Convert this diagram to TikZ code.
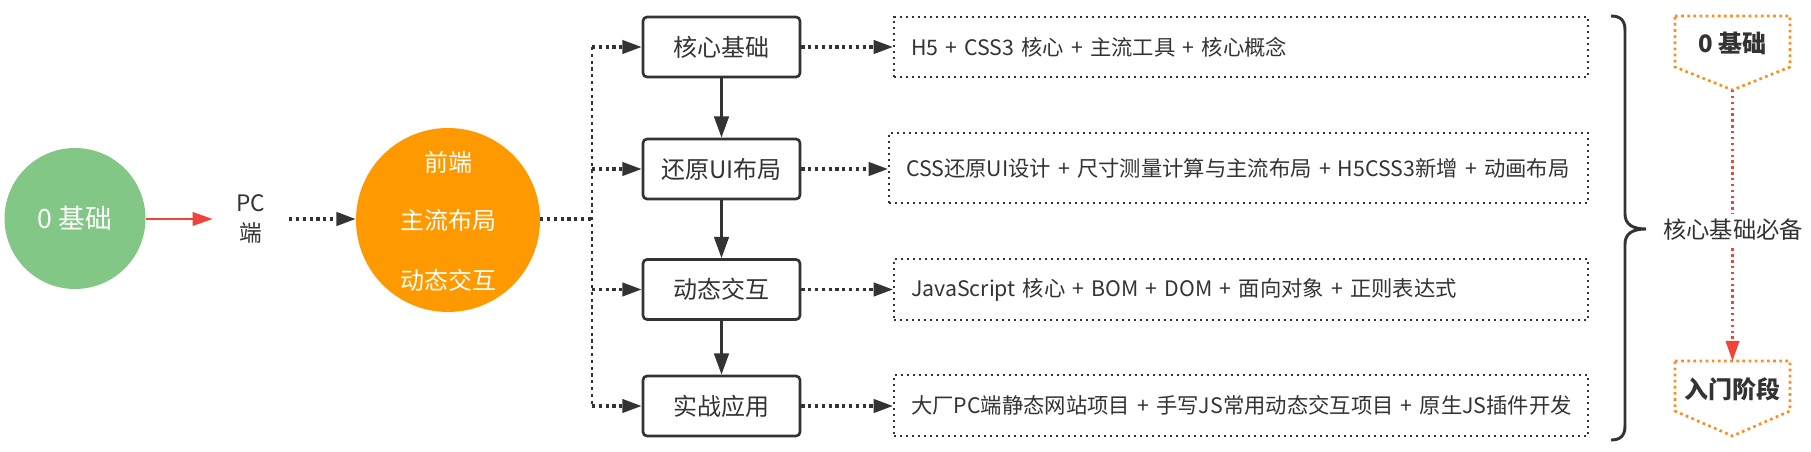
\documentclass[tikz,border=0pt]{standalone}
\usepackage{fontspec}
\setmainfont{Noto Sans CJK SC}
\usetikzlibrary{arrows.meta,shapes.geometric}
\definecolor{ink}{HTML}{333333}
\definecolor{grn}{HTML}{82C785}
\definecolor{orng}{HTML}{FF9900}
\definecolor{rd}{HTML}{F04438}
\definecolor{dorng}{HTML}{FF8C1A}
\begin{document}
\begin{tikzpicture}[x=0.75pt,y=-0.75pt,
  stepbox/.style={draw=ink, line width=2pt, rounded corners=3pt, minimum width=117.75pt, minimum height=45pt, inner sep=0pt, font=\fontsize{18}{20}\selectfont, text=ink},
  detail/.style={draw=ink, line width=1.6pt, dash pattern=on 1.6pt off 2.9pt, anchor=west, align=left, inner xsep=12.75pt, inner ysep=0pt, text=ink, font=\fontsize{16}{19}\selectfont},
  dotline/.style={draw=ink, line width=2.4pt, dash pattern=on 2.4pt off 2.7pt},
  dotarrow/.style={dotline, -{Triangle[length=14.5pt,width=10pt]}},
  solidarrow/.style={draw=ink, line width=2pt, -{Triangle[length=16pt,width=11pt]}},
  pent/.style={draw=dorng, line width=2pt, dash pattern=on 2pt off 2.6pt},
  pentxt/.style={font=\fontsize{18}{20}\selectfont\bfseries, text=ink},
  wtxt/.style={text=white, font=\fontsize{18}{20}\selectfont},
]
\useasboundingbox (0,0) rectangle (1811,452);

% left part
\node[ellipse, fill=grn, minimum width=105.75pt, minimum height=105.75pt, inner sep=0pt, text=white, font=\fontsize{20}{22}\selectfont] (g) at (75,218.5) {0 基础};
\node[minimum width=57pt, inner sep=0pt, align=center, text=ink, font=\fontsize{17}{22.5}\selectfont] (pc) at (251,219) {PC\\端};
\node[ellipse, fill=orng, minimum width=138pt, minimum height=138pt, inner sep=0pt] (o) at (448,220) {};
\node[wtxt] (o1) at (448,162) {前端};
\node[wtxt] (o2) at (448,220) {主流布局};
\node[wtxt] (o3) at (448,280) {动态交互};

\draw[draw=rd, line width=1.6pt, -{Triangle[length=15pt,width=10pt]}] (g.east |- pc.west) -- (pc.west);
\draw[dotarrow] (pc.east) -- (pc.east -| o.west);

% step boxes
\node[stepbox] (s1) at (721.5,47) {核心基础};
\node[stepbox] (s2) at (721.5,169) {还原UI布局};
\node[stepbox] (s3) at (721.5,289.5) {动态交互};
\node[stepbox] (s4) at (721.5,406) {实战应用};

\draw[solidarrow] (s1) -- (s2);
\draw[solidarrow] (s2) -- (s3);
\draw[solidarrow] (s3) -- (s4);

% trunk
\coordinate (trunk) at (592,219);
\draw[dotline, line width=2.6pt] (o.east |- pc.east) -- (trunk);
\draw[dotline, line width=2pt] (s1.west -| trunk) -- (s4.west -| trunk);
\foreach \s in {s1,s2,s3,s4} {
  \draw[dotarrow] (\s.west -| trunk) -- (\s.west);
}

% detail boxes
\node[detail, text width=495pt, minimum height=45pt] (d1) at (893,47) {\mbox{H5 + CSS3 核心 + 主流工具 + 核心概念}};
\node[detail, text width=498.75pt, minimum height=52.5pt] (d2) at (888,168) {\mbox{CSS还原UI设计 + 尺寸测量计算与主流布局 + H5CSS3新增 + 动画布局}};
\node[detail, text width=495pt, minimum height=45.75pt] (d3) at (893,289.5) {\mbox{JavaScript 核心 + BOM + DOM + 面向对象 + 正则表达式}};
\node[detail, text width=495pt, minimum height=45.75pt] (d4) at (893,405.5) {\mbox{大厂PC端静态网站项目 + 手写JS常用动态交互项目 + 原生JS插件开发}};

\draw[dotarrow] (s1.east) -- (s1.east -| d1.west);
\draw[dotarrow] (s2.east) -- (s2.east -| d2.west);
\draw[dotarrow] (s3.east) -- (s3.east -| d3.west);
\draw[dotarrow] (s4.east) -- (s4.east -| d4.west);

% brace
\draw[ink, line width=2.2pt] (1611,16) .. controls (1620,16) and (1625,20) .. (1625,30) -- (1625,214)
  .. controls (1625,224) and (1632,229) .. (1646,229)
  .. controls (1632,229) and (1625,234) .. (1625,244) -- (1625,426)
  .. controls (1625,436) and (1620,440) .. (1611,440);

% pentagons
\draw[pent] (1675,16) -- (1790,16) -- (1790,67) -- (1732.5,90) -- (1675,67) -- cycle;
\node[pentxt] (z) at (1732.5,43) {0 基础};
\coordinate (ztip) at (1732.5,90);
\draw[pent] (1675,361) -- (1790,361) -- (1790,411) -- (1732.5,436) -- (1675,411) -- cycle;
\node[pentxt] (rm) at (1732.5,389) {入门阶段};
\coordinate (rtop) at (1732.5,361);

\draw[draw=rd, line width=1.8pt, dash pattern=on 1.8pt off 2.6pt, -{Triangle[length=15pt,width=10pt]}] (ztip) -- (rtop);
\node[fill=white, inner xsep=2pt, inner ysep=4pt, text=ink, font=\fontsize{17.5}{20}\selectfont] (bx) at (1733,230) {核心基础必备};
\end{tikzpicture}
\end{document}
